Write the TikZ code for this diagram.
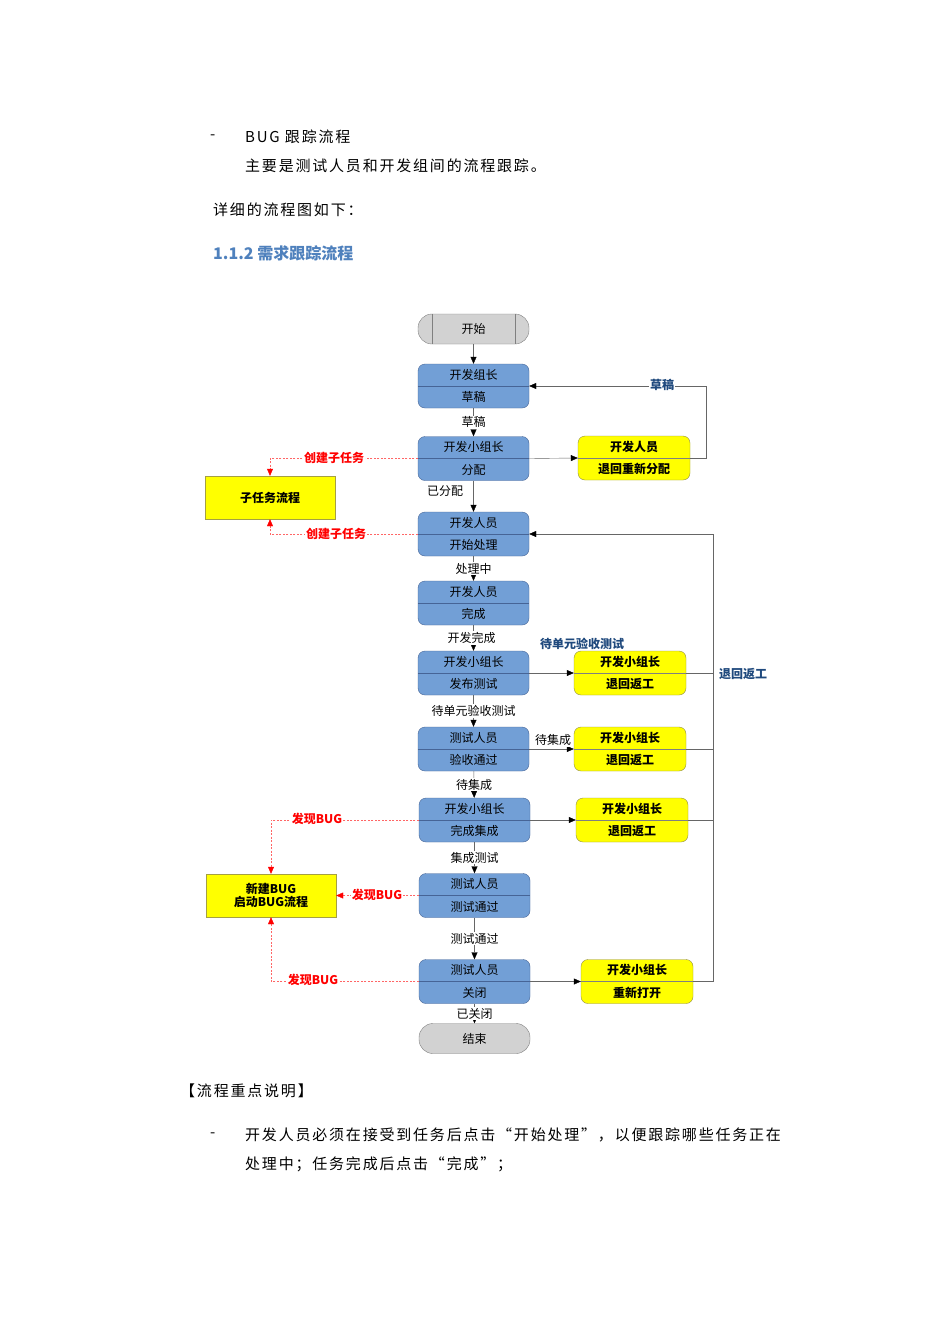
\documentclass[tikz,border=0pt]{standalone}
\usepackage{fontspec}
\setmainfont{Noto Sans CJK SC}
\newfontfamily\bodyfont[LetterSpace=12]{Noto Sans CJK SC}
\usetikzlibrary{arrows.meta}
\definecolor{bbl}{RGB}{114,159,214}
\definecolor{bbd}{RGB}{70,100,150}
\definecolor{ttl}{RGB}{79,129,189}
\definecolor{lbl}{RGB}{31,73,125}
\definecolor{yel}{RGB}{255,255,0}
\tikzset{
 bluebox/.style={draw=bbd,fill=bbl,rounded corners=7pt,minimum width=111pt,minimum height=44pt,inner sep=0pt},
 yelbox/.style={draw=black!50!yellow,fill=yel,rounded corners=7pt,minimum width=112pt,minimum height=44pt,inner sep=0pt},
 yelrect/.style={draw=black!40!yellow,fill=yel,minimum width=130pt,minimum height=43pt,inner sep=0pt,font=\fontsize{12}{13}\selectfont\bfseries},
 greybox/.style={draw=gray,fill=gray!35,rounded corners=14pt,minimum width=111pt,minimum height=30pt},
 txt/.style={font=\fontsize{12}{14}\selectfont,inner sep=0pt},
 btxt/.style={font=\fontsize{12}{14}\selectfont\bfseries,inner sep=0pt},
 body/.style={font=\bodyfont\fontsize{15}{18}\selectfont,anchor=west,inner sep=0pt},
 arr/.style={-{Triangle[length=7pt,width=6pt,color=black]},draw=gray!80!black},
 redarr/.style={-{Triangle[length=7pt,width=6pt,color=red]},draw=red!60,dash pattern=on 2pt off 1.5pt},
 redlbl/.style={font=\fontsize{12}{14}\selectfont\bfseries,text=red,fill=white,inner sep=1pt},
 seglbl/.style={font=\fontsize{12}{14}\selectfont,fill=white,inner sep=1pt}
}
\newcommand{\twobox}[6]{% style,name,x,y,top,bottom
 \node[#1] (#2) at (#3,#4) {};
 \draw[draw=bbd] (#2.west) -- (#2.east);
 \node[txt] (#2t) at ([yshift=-11pt]#2.north) {#5};
 \node[txt] (#2b) at ([yshift=11pt]#2.south) {#6};}
\newcommand{\ytwobox}[6]{%
 \node[#1] (#2) at (#3,#4) {};
 \draw[draw=gray] (#2.west) -- (#2.east);
 \node[btxt] (#2t) at ([yshift=-11pt]#2.north) {#5};
 \node[btxt] (#2b) at ([yshift=11pt]#2.south) {#6};}
\begin{document}
\begin{tikzpicture}[x=1pt,y=-1pt]
\useasboundingbox[fill=white] (0,0) rectangle (950,1344);
% header text
\node[body] (d1) at (210,137) {-};
\node[body] (h1) at (245,137) {BUG 跟踪流程};
\node[body] (h2) at (245,166) {主要是测试人员和开发组间的流程跟踪。};
\node[body] (h3) at (213,210) {详细的流程图如下：};
\node[body,text=ttl,font=\fontsize{16}{18}\selectfont\bfseries] (h4) at (213,253) {1.1.2 需求跟踪流程};
% start
\node[greybox] (start) at (473.5,329) {};
\draw[gray] ([xshift=14pt]start.north west) -- ([xshift=14pt]start.south west);
\draw[gray] ([xshift=-14pt]start.north east) -- ([xshift=-14pt]start.south east);
\node[txt] (startt) at (start) {开始};
\twobox{bluebox}{b1}{473.5}{386}{开发组长}{草稿}
\twobox{bluebox}{b2}{473.5}{458.5}{开发小组长}{分配}
\twobox{bluebox}{b3}{473.5}{534}{开发人员}{开始处理}
\twobox{bluebox}{b4}{473.5}{603}{开发人员}{完成}
\twobox{bluebox}{b5}{473.5}{673}{开发小组长}{发布测试}
\twobox{bluebox}{b6}{473.5}{749}{测试人员}{验收通过}
\twobox{bluebox}{b7}{474.5}{820}{开发小组长}{完成集成}
\twobox{bluebox}{b8}{474.5}{895.5}{测试人员}{测试通过}
\twobox{bluebox}{b9}{474.5}{981.5}{测试人员}{关闭}
\node[greybox] (end) at (474.5,1038.5) {};
\node[txt] (endt) at (end) {结束};
% yellow
\ytwobox{yelbox}{y1}{634}{458}{开发人员}{退回重新分配}
\ytwobox{yelbox}{y2}{630}{673}{开发小组长}{退回返工}
\ytwobox{yelbox}{y3}{630}{749}{开发小组长}{退回返工}
\ytwobox{yelbox}{y4}{632}{820}{开发小组长}{退回返工}
\ytwobox{yelbox}{y5}{637}{981.5}{开发小组长}{重新打开}
\node[yelrect] (sub) at (270,497.5) {子任务流程};
\node[yelrect,align=center,font=\fontsize{12}{13}\selectfont\bfseries] (bug) at (271,895.5) {新建BUG\\启动BUG流程};
% main arrows
\draw[arr] (start) -- (b1);
\draw[arr] (b1) -- node[seglbl] (l1) {草稿} (b2);
\draw[arr] (b2) -- (b3);
\node[txt,fill=white,inner sep=1pt] (l2) at (445,491) {已分配};
\draw[arr] (b3) -- node[seglbl] (l3) {处理中} (b4);
\draw[arr] (b4) -- node[seglbl,xshift=-2pt] (l4) {开发完成} (b5);
\draw[arr] (b5) -- node[seglbl] (l5) {待单元验收测试} (b6);
\draw[arr] (b6) -- node[seglbl] (l6) {待集成} (b7);
\draw[arr] (b7) -- node[seglbl] (l7) {集成测试} (b8);
\draw[arr] (b8) -- node[seglbl] (l8) {测试通过} (b9);
\draw[arr] (b9) -- node[seglbl] (l9) {已关闭} (end);
% to yellow
\draw[arr] (b2.east) -- (y1.west);
\draw[arr] (b5.east) -- (y2.west);
\draw[arr] (b6.east) -- (y3.west);
\draw[arr] (b7.east) -- (y4.west);
\draw[arr] (b9.east) -- (y5.west);
\node[txt,fill=white,inner sep=1pt] (l10) at (553,740) {待集成};
\node[btxt,text=lbl] (l11) at (582,644) {待单元验收测试};
% loops
\draw[arr] (y1.east) -| (706,386) -- (b1.east);
\node[btxt,text=lbl,fill=white,inner sep=1pt] (l12) at (662,385) {草稿};
\draw[arr] (y5.east) -| (713,534) -- (b3.east);
\draw[gray!80!black] (y2.east) -- (713,673);
\draw[gray!80!black] (y3.east) -- (713,749);
\draw[gray!80!black] (y4.east) -- (713,820);
\node[btxt,text=lbl,fill=white,inner sep=1pt] (l13) at (743,674) {退回返工};
% red
\draw[redarr] (b2.west) -| (sub.north);
\node[redlbl] (r1) at (334,458) {创建子任务};
\draw[redarr] (b3.west) -| (sub.south);
\node[redlbl] (r2) at (336,534) {创建子任务};
\draw[redarr] (b7.west) -| (bug.north);
\node[redlbl] (r3) at (317,819) {发现BUG};
\draw[redarr] (b8.west) -- (bug.east);
\node[redlbl] (r4) at (377,895) {发现BUG};
\draw[redarr] (b9.west) -| (bug.south);
\node[redlbl] (r5) at (313,980) {发现BUG};
% footer
\node[body] (f1) at (180,1091) {【流程重点说明】};
\node[body] (d2) at (210,1135) {-};
\node[body] (f2) at (245,1135) {开发人员必须在接受到任务后点击“开始处理”，以便跟踪哪些任务正在};
\node[body] (f3) at (245,1164) {处理中；任务完成后点击“完成”；};
\end{tikzpicture}
\end{document}
